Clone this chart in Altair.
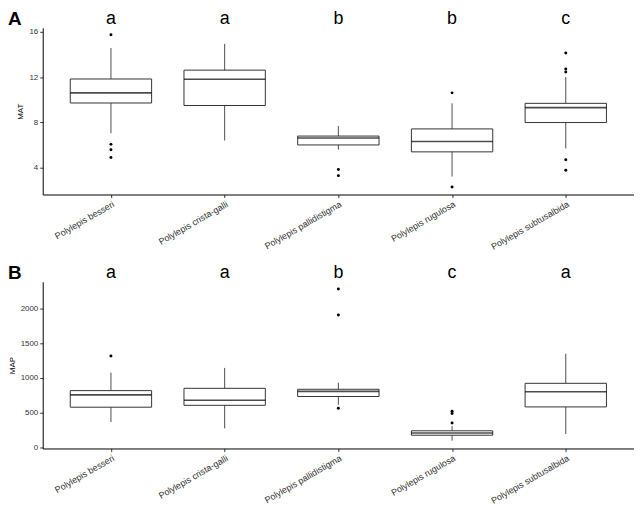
import altair as alt
import pandas as pd

species = ["Polylepis besseri", "Polylepis crista-galli", "Polylepis pallidistigma",
           "Polylepis rugulosa", "Polylepis subtusalbida"]

# Panel A: MAT
mat_lower = [7.06, 6.42, 5.61, 3.25, 5.72]
mat_q1 = [9.72, 9.50, 6.03, 5.42, 8.00]
mat_median = [10.61, 11.81, 6.64, 6.33, 9.31]
mat_q3 = [11.83, 12.61, 6.81, 7.44, 9.69]
mat_upper = [14.56, 14.92, 7.69, 9.69, 12.00]
mat_out_species = ["Polylepis besseri", "Polylepis besseri", "Polylepis besseri", "Polylepis besseri",
                   "Polylepis pallidistigma", "Polylepis pallidistigma",
                   "Polylepis rugulosa", "Polylepis rugulosa",
                   "Polylepis subtusalbida", "Polylepis subtusalbida", "Polylepis subtusalbida",
                   "Polylepis subtusalbida", "Polylepis subtusalbida"]
mat_out_values = [15.72, 6.08, 5.61, 4.92,
                  3.86, 3.33,
                  10.61, 2.33,
                  14.11, 12.72, 12.44, 4.72, 3.81]
mat_letters = ["a", "a", "b", "b", "c"]
mat_ticks = [4, 8, 12, 16]
mat_domain = [1.67, 16.33]

# Panel B: MAP
map_lower = [363, 272, 612, 95, 190]
map_q1 = [577, 604, 731, 173, 581]
map_median = [754, 676, 805, 204, 799]
map_q3 = [816, 849, 835, 237, 921]
map_upper = [1075, 1143, 930, 305, 1347]
map_out_species = ["Polylepis besseri",
                   "Polylepis pallidistigma", "Polylepis pallidistigma", "Polylepis pallidistigma",
                   "Polylepis rugulosa", "Polylepis rugulosa", "Polylepis rugulosa"]
map_out_values = [1316,
                  2282, 1905, 563,
                  517, 486, 350]
map_letters = ["a", "a", "b", "c", "a"]
map_ticks = [0, 500, 1000, 1500, 2000]
map_domain = [-18, 2384]

W = 596
H = 168
BOXW = 82
FONT = "Liberation Sans"


def panel(lower, q1, med, q3, upper, out_sp, out_v, letters, ytitle, ticks, domain, tag):
    stats = pd.DataFrame({"species": species, "lower": lower, "q1": q1, "median": med,
                          "q3": q3, "upper": upper, "letter": letters})
    outs = pd.DataFrame({"species": out_sp, "value": out_v})
    tagdf = pd.DataFrame({"tag": [tag]})

    x = alt.X("species:N", sort=species,
              scale=alt.Scale(type="point", padding=0.6, domain=species),
              axis=alt.Axis(title=None, labelAngle=-30, labelAlign="right",
                            labelBaseline="top", labelFontSize=9, labelPadding=2,
                            labelColor="#333333", tickSize=3, tickColor="#333333"))
    yscale = alt.Scale(domain=domain, nice=False, zero=False)
    yaxis = alt.Axis(title=ytitle, values=ticks, format="d", labelFontSize=8, labelColor="#333333",
                     titleFontSize=8, titleFontWeight="normal", titleColor="#000000",
                     tickSize=3, tickColor="#333333", titlePadding=4, labelPadding=2)

    base = alt.Chart(stats)
    whisk = base.mark_rule(color="#4d4d4d", strokeWidth=1).encode(
        x=x, y=alt.Y("lower:Q", scale=yscale, axis=yaxis), y2="upper:Q")
    box = base.mark_bar(fill="white", stroke="#333333", strokeWidth=1, size=BOXW).encode(
        x=x, y=alt.Y("q1:Q", scale=yscale, axis=yaxis), y2="q3:Q")
    median = base.mark_tick(color="#000000", thickness=1.6, size=BOXW).encode(
        x=x, y=alt.Y("median:Q", scale=yscale, axis=yaxis))
    points = alt.Chart(outs).mark_circle(color="#000000", size=9, opacity=1).encode(
        x=x, y=alt.Y("value:Q", scale=yscale, axis=yaxis))
    lett = base.mark_text(fontSize=18, font=FONT, baseline="alphabetic", color="#000000").encode(
        x=x, y=alt.value(-4), text="letter:N")
    tagm = alt.Chart(tagdf).mark_text(fontSize=19, font=FONT, fontWeight="bold",
                                      align="left", baseline="alphabetic", color="#000000").encode(
        x=alt.value(-35), y=alt.value(-3), text="tag:N")
    return alt.layer(whisk, box, median, points, lett, tagm).properties(width=W, height=H)


pa = panel(mat_lower, mat_q1, mat_median, mat_q3, mat_upper, mat_out_species, mat_out_values,
           mat_letters, "MAT", mat_ticks, mat_domain, "A")
pb = panel(map_lower, map_q1, map_median, map_q3, map_upper, map_out_species, map_out_values,
           map_letters, "MAP", map_ticks, map_domain, "B")

chart = alt.vconcat(pa, pb, spacing=12).properties(padding=0).configure_view(
    stroke=None).configure_axis(grid=False, domainColor="#000000", domainWidth=1,
                                labelFont=FONT, titleFont=FONT).configure_text(font=FONT)

chart.save("out.html", embed_options={"renderer": "svg", "actions": False})
